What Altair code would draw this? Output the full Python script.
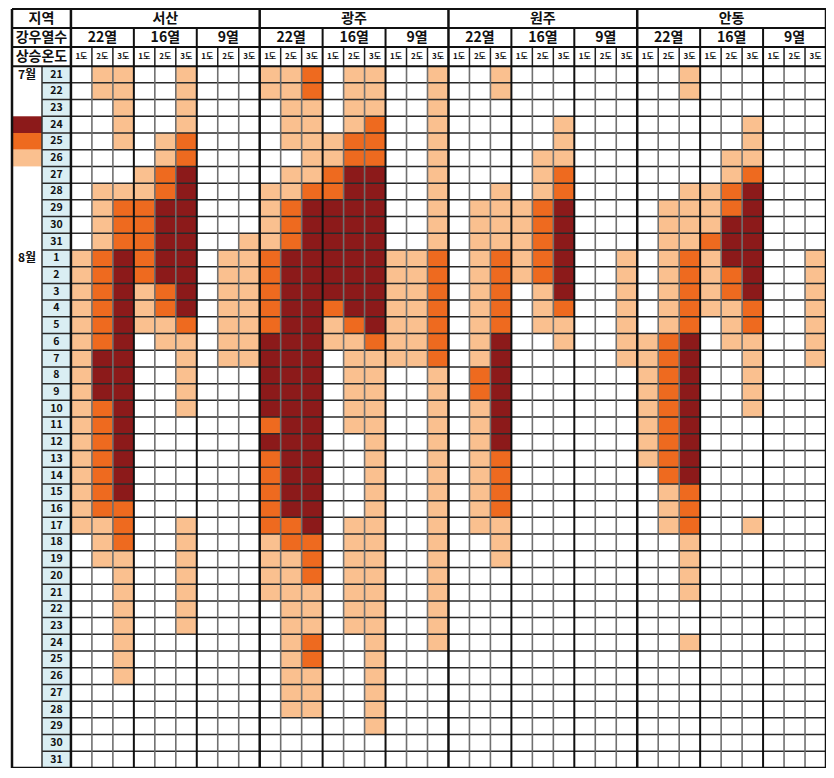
import altair as alt
import pandas as pd

REGIONS = ["서산", "광주", "원주", "안동"]
RAIN_GROUPS = ["22열", "16열", "9열"]
TEMP_RISE = ["1도", "2도", "3도"]
JULY_DAYS = [str(d) for d in range(21, 32)]
AUG_DAYS = [str(d) for d in range(1, 32)]
MONTHS = ["7월", "8월"]
LEGEND_VALUES = ["24", "25", "26"]
COLORS = ["#8C1A1A", "#EE6A1F", "#FAC08F"]

# One string per column (1도,2도,3도 for 22열, 16열, 9열).
# Characters: July 21-30 | 31 | Aug 1-10 | 11-20 | 21-30 | 31
# '.' = blank, '4' = 24, '5' = 25, '6' = 26
SEOSAN = [
    ".......... . 6666666666 6666666... .......... .",
    "66.....666 6 5555554445 555555666. .......... .",
    "66666..655 5 4444444444 4444455566 666666.... .",
    "......6655 5 55666..... .......... .......... .",
    "....665544 4 445566.... .......... .......... .",
    "6666554444 4 4444566666 ......6666 666....... .",
    ".......... . .......... .......... .......... .",
    ".......... . 6666666... .......... .......... .",
    ".......... 6 6666666... .......... .......... .",
]
GWANGJU = [
    "66.....666 6 5555544444 5455555666 6......... .",
    "66666.6655 5 4444444444 4444445566 66666666.. .",
    "5566666544 4 4444444444 4444444555 66655666.. .",
    "....665544 4 444566.... .......... .......... .",
    "6666554444 4 4444566666 6.....6666 666....... .",
    "6665554444 4 4444456666 6666666666 666666666. .",
    ".......... . 6666666... .......... .......... .",
    ".......... . 6666666... .......... .......... .",
    "6666666666 6 5555555666 6666666666 6666...... .",
]
WONJU = [
    ".......... . .......... .......... .......... .",
    "........66 6 6666666556 6666666... .......... .",
    "66.....666 6 5555544444 445555666. .......... .",
    "........66 6 66........ .......... .......... .",
    ".....66655 5 55666..... .......... .......... .",
    "...6665544 4 444566.... .......... .......... .",
    ".......... . .......... .......... .......... .",
    ".......... . .......... .......... .......... .",
    ".......... . 6666666... .......... .......... .",
]
ANDONG = [
    ".......... . .....66666 666....... .......... .",
    "........66 6 6666655555 5555666... .......... .",
    "66.....666 6 5555544444 4444555666 6..6...... .",
    ".......666 5 6666...... .......... .......... .",
    ".....66554 4 455666.... .......... .......... .",
    "...6665444 4 4445566666 ......6... .......... .",
    ".......... . .......... .......... .......... .",
    ".......... . .......... .......... .......... .",
    ".......... . 6666666... .......... .......... .",
]

DAYS = JULY_DAYS + AUG_DAYS
NROW = len(DAYS)
NCOL = len(REGIONS) * len(RAIN_GROUPS) * len(TEMP_RISE)
H = 1.14          # header row height (in data-row units)
X_DAY = -1.38     # left edge of day column
X_MIN = -2.81     # left edge of month column
Y_TOP = -3 * H

# ---------- cells ----------
recs = []
for ri, cols in enumerate([SEOSAN, GWANGJU, WONJU, ANDONG]):
    for ci, s in enumerate(cols):
        s = s.replace(" ", "")
        assert len(s) == NROW, (ri, ci, len(s))
        col = ri * 9 + ci
        for r, ch in enumerate(s):
            if ch != ".":
                recs.append({"x": col, "x2": col + 1, "y": r, "y2": r + 1, "val": "2" + ch})
cells = pd.DataFrame(recs)

xs = alt.Scale(domain=[X_MIN, NCOL], nice=False, zero=False)
ys = alt.Scale(domain=[Y_TOP, NROW], nice=False, zero=False, reverse=True)


def XQ(f="x"):
    return alt.X(f"{f}:Q", scale=xs, axis=None)


def YQ(f="y"):
    return alt.Y(f"{f}:Q", scale=ys, axis=None)


cmap = alt.Scale(domain=LEGEND_VALUES, range=COLORS)

cell_layer = alt.Chart(cells).mark_rect().encode(
    x=XQ(), x2="x2:Q", y=YQ(), y2="y2:Q",
    color=alt.Color("val:N", scale=cmap, legend=None),
)

# day column background
day_df = pd.DataFrame({"y": list(range(NROW)), "y2": [i + 1 for i in range(NROW)],
                       "x": [X_DAY] * NROW, "x2": [0] * NROW, "day": DAYS,
                       "xc": [X_DAY / 2] * NROW, "yc": [i + 0.5 for i in range(NROW)]})
day_bg = alt.Chart(day_df).mark_rect(color="#DAEEF3").encode(x=XQ(), x2="x2:Q", y=YQ(), y2="y2:Q")
day_text = alt.Chart(day_df).mark_text(font="Noto Sans CJK KR", fontWeight="bold", fontSize=10.5,
                                       color="#111").encode(x=XQ("xc"), y=YQ("yc"), text="day:N")

# legend swatches in the month column, next to July 24/25/26
leg_rows = [JULY_DAYS.index(v) for v in LEGEND_VALUES]
leg_df = pd.DataFrame({"val": LEGEND_VALUES, "y": leg_rows, "y2": [r + 1 for r in leg_rows],
                       "x": [X_MIN] * 3, "x2": [X_DAY] * 3})
leg_layer = alt.Chart(leg_df).mark_rect().encode(
    x=XQ(), x2="x2:Q", y=YQ(), y2="y2:Q",
    color=alt.Color("val:N", scale=cmap, legend=None))

# month labels
mon_df = pd.DataFrame({"text": MONTHS, "x": [(X_MIN + X_DAY) / 2] * 2,
                       "y": [0.5, len(JULY_DAYS) + 0.5]})
mon_text = alt.Chart(mon_df).mark_text(font="Noto Sans CJK KR", fontWeight="bold", fontSize=12,
                                       color="#111").encode(x=XQ(), y=YQ(), text="text:N")

# ---------- headers ----------
hdr = []
hdr.append({"text": "지역", "x": X_MIN / 2, "y": Y_TOP + H / 2, "size": 14})
hdr.append({"text": "강우열수", "x": X_MIN / 2, "y": Y_TOP + 1.5 * H, "size": 14})
hdr.append({"text": "상승온도", "x": X_MIN / 2, "y": Y_TOP + 2.5 * H, "size": 14})
for i, r in enumerate(REGIONS):
    hdr.append({"text": r, "x": 9 * i + 4.5, "y": Y_TOP + H / 2, "size": 14})
    for g, gname in enumerate(RAIN_GROUPS):
        hdr.append({"text": gname, "x": 9 * i + 3 * g + 1.5, "y": Y_TOP + 1.5 * H, "size": 14})
hdr_df = pd.DataFrame(hdr)
hdr_text = alt.Chart(hdr_df).mark_text(font="Noto Sans CJK KR", fontWeight="bold",
                                       color="#111").encode(
    x=XQ(), y=YQ(), text="text:N", size=alt.Size("size:Q", scale=None, legend=None))

temp_df = pd.DataFrame({"text": [TEMP_RISE[c % 3] for c in range(NCOL)],
                        "x": [c + 0.5 for c in range(NCOL)], "y": [-H / 2] * NCOL})
temp_text = alt.Chart(temp_df).mark_text(font="Noto Sans CJK KR", fontWeight="bold", fontSize=8,
                                         color="#111").encode(x=XQ(), y=YQ(), text="text:N")

# ---------- grid lines ----------
def vrules(xs_list, y0, y1, color, width):
    df = pd.DataFrame({"x": xs_list, "y": [y0] * len(xs_list), "y2": [y1] * len(xs_list)})
    return alt.Chart(df).mark_rule(color=color, strokeWidth=width).encode(x=XQ(), y=YQ(), y2="y2:Q")


def hrules(ys_list, x0, x1, color, width):
    df = pd.DataFrame({"y": ys_list, "x": [x0] * len(ys_list), "x2": [x1] * len(ys_list)})
    return alt.Chart(df).mark_rule(color=color, strokeWidth=width).encode(y=YQ(), x=XQ(), x2="x2:Q")


inner = [c for c in range(1, NCOL) if c % 3 != 0]
groups = [c for c in range(1, NCOL) if c % 3 == 0 and c % 9 != 0]
regions = [c for c in range(0, NCOL + 1) if c % 9 == 0]

grid = [
    hrules(list(range(1, NROW)), X_DAY, NCOL, "#2a2a2a", 1.5),
    vrules(inner, 0, NROW, "#707070", 1.6),
    vrules(inner, -H, 0, "#222", 1.5),
    vrules(groups, -2 * H, NROW, "#111", 2),
    vrules(regions, Y_TOP, NROW, "#111", 2.5),
    vrules([X_DAY], 0, NROW, "#333", 1.5),
    vrules([X_MIN], Y_TOP, NROW, "#111", 2.5),
    hrules([Y_TOP, -2 * H, -H, 0], X_MIN, NCOL, "#111", 2),
    hrules([NROW], X_MIN, NCOL, "#111", 2.5),
]

chart = alt.layer(
    cell_layer, day_bg, leg_layer, *grid, day_text, mon_text, hdr_text, temp_text
).properties(
    width=814, height=759,
    autosize=alt.AutoSizeParams(type="none"),
    padding={"left": 4, "top": 1, "right": 0, "bottom": 0},
    background="white",
).configure_view(stroke=None)

chart.save("out.html", embed_options={"renderer": "svg", "actions": False})
